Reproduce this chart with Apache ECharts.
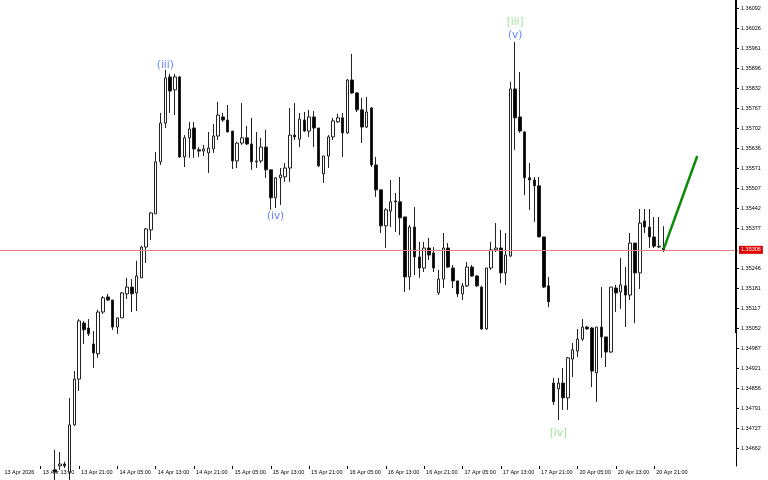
<!DOCTYPE html>
<html>
<head>
<meta charset="utf-8">
<title>H1 candles</title>
<script src="https://cdn.jsdelivr.net/npm/echarts@6/dist/echarts.min.js"></script>
<style>
  html, body { margin: 0; padding: 0; background: #fff; }
  #chart { width: 768px; height: 480px; }
</style>
</head>
<body>
<div id="chart"></div>
<script>
// hourly bars; bar 0 = 13 Apr 05:00, first visible candle is bar 11
const days = ['13 Apr', '14 Apr', '15 Apr', '16 Apr', '17 Apr', '20 Apr', '21 Apr'];
const firstHour = 5;
const barCount = 154;
const firstBar = 11;

// [open, close, low, high]
const candles = [
  [1.34591, 1.34584, 1.34558, 1.34656], [1.34604, 1.34610, 1.34591, 1.34649], [1.34610, 1.34604, 1.34597, 1.34617],
  [1.34584, 1.34737, 1.34558, 1.34825], [1.34737, 1.34886, 1.34734, 1.34912], [1.34886, 1.35075, 1.34847, 1.35081],
  [1.35068, 1.35046, 1.35000, 1.35075], [1.35052, 1.35033, 1.35026, 1.35081], [1.35000, 1.34971, 1.34922, 1.35042],
  [1.34968, 1.35104, 1.34955, 1.35111], [1.35104, 1.35150, 1.35098, 1.35156], [1.35153, 1.35143, 1.35140, 1.35163],
  [1.35143, 1.35055, 1.35046, 1.35143], [1.35055, 1.35085, 1.35033, 1.35085], [1.35085, 1.35166, 1.35085, 1.35169],
  [1.35163, 1.35185, 1.35146, 1.35215], [1.35185, 1.35163, 1.35104, 1.35211], [1.35166, 1.35221, 1.35107, 1.35270],
  [1.35215, 1.35315, 1.35215, 1.35319], [1.35315, 1.35374, 1.35263, 1.35377], [1.35371, 1.35426, 1.35338, 1.35429],
  [1.35423, 1.35592, 1.35423, 1.35624], [1.35592, 1.35718, 1.35582, 1.35751], [1.35718, 1.35865, 1.35702, 1.35891],
  [1.35868, 1.35822, 1.35751, 1.35878], [1.35826, 1.35868, 1.35744, 1.35878], [1.35868, 1.35608, 1.35605, 1.35871],
  [1.35608, 1.35670, 1.35575, 1.35679], [1.35670, 1.35699, 1.35605, 1.35722], [1.35702, 1.35634, 1.35605, 1.35722],
  [1.35631, 1.35627, 1.35608, 1.35640], [1.35627, 1.35634, 1.35611, 1.35647], [1.35621, 1.35637, 1.35556, 1.35689],
  [1.35634, 1.35676, 1.35621, 1.35715], [1.35676, 1.35744, 1.35663, 1.35787], [1.35738, 1.35728, 1.35722, 1.35751],
  [1.35728, 1.35689, 1.35689, 1.35777], [1.35692, 1.35595, 1.35569, 1.35692], [1.35595, 1.35653, 1.35572, 1.35657],
  [1.35653, 1.35670, 1.35647, 1.35783], [1.35670, 1.35650, 1.35647, 1.35709], [1.35650, 1.35592, 1.35566, 1.35735],
  [1.35592, 1.35595, 1.35572, 1.35689], [1.35595, 1.35640, 1.35588, 1.35670], [1.35640, 1.35566, 1.35540, 1.35696],
  [1.35566, 1.35475, 1.35436, 1.35566], [1.35475, 1.35540, 1.35442, 1.35543], [1.35540, 1.35549, 1.35452, 1.35572],
  [1.35543, 1.35572, 1.35527, 1.35588], [1.35572, 1.35679, 1.35527, 1.35767], [1.35679, 1.35673, 1.35663, 1.35783],
  [1.35666, 1.35731, 1.35640, 1.35751], [1.35728, 1.35692, 1.35689, 1.35754], [1.35692, 1.35738, 1.35673, 1.35761],
  [1.35738, 1.35702, 1.35640, 1.35757], [1.35702, 1.35579, 1.35575, 1.35702], [1.35553, 1.35611, 1.35523, 1.35611],
  [1.35611, 1.35673, 1.35572, 1.35679], [1.35673, 1.35725, 1.35663, 1.35735], [1.35722, 1.35735, 1.35718, 1.35748],
  [1.35735, 1.35686, 1.35608, 1.35751], [1.35686, 1.35858, 1.35683, 1.35861], [1.35858, 1.35816, 1.35813, 1.35943],
  [1.35816, 1.35761, 1.35754, 1.35819], [1.35761, 1.35705, 1.35653, 1.35800], [1.35705, 1.35754, 1.35702, 1.35803],
  [1.35767, 1.35582, 1.35575, 1.35770], [1.35582, 1.35501, 1.35478, 1.35608], [1.35501, 1.35384, 1.35361, 1.35501],
  [1.35384, 1.35436, 1.35312, 1.35442], [1.35432, 1.35462, 1.35380, 1.35533], [1.35465, 1.35462, 1.35364, 1.35491],
  [1.35462, 1.35410, 1.35354, 1.35543], [1.35413, 1.35218, 1.35169, 1.35413], [1.35218, 1.35380, 1.35176, 1.35387],
  [1.35380, 1.35283, 1.35224, 1.35445], [1.35283, 1.35247, 1.35215, 1.35332], [1.35247, 1.35312, 1.35234, 1.35332],
  [1.35312, 1.35289, 1.35273, 1.35345], [1.35296, 1.35247, 1.35234, 1.35315], [1.35166, 1.35211, 1.35159, 1.35241],
  [1.35211, 1.35312, 1.35182, 1.35361], [1.35312, 1.35250, 1.35247, 1.35328], [1.35247, 1.35205, 1.35182, 1.35257],
  [1.35205, 1.35163, 1.35153, 1.35205], [1.35163, 1.35189, 1.35143, 1.35198], [1.35189, 1.35250, 1.35185, 1.35267],
  [1.35250, 1.35221, 1.35218, 1.35257], [1.35221, 1.35189, 1.35185, 1.35224], [1.35185, 1.35049, 1.35046, 1.35189],
  [1.35049, 1.35247, 1.35046, 1.35247], [1.35247, 1.35306, 1.35241, 1.35332], [1.35306, 1.35312, 1.35299, 1.35393],
  [1.35312, 1.35231, 1.35198, 1.35371], [1.35231, 1.35289, 1.35192, 1.35361], [1.35286, 1.35829, 1.35283, 1.35852],
  [1.35829, 1.35735, 1.35631, 1.35982], [1.35738, 1.35692, 1.35686, 1.35884], [1.35689, 1.35540, 1.35484, 1.35692],
  [1.35540, 1.35533, 1.35436, 1.35588], [1.35533, 1.35514, 1.35397, 1.35543], [1.35514, 1.35348, 1.35348, 1.35543],
  [1.35348, 1.35185, 1.35182, 1.35348], [1.35189, 1.35137, 1.35120, 1.35218], [1.34873, 1.34812, 1.34802, 1.34890],
  [1.34854, 1.34873, 1.34753, 1.34890], [1.34873, 1.34825, 1.34786, 1.34922], [1.34825, 1.34955, 1.34786, 1.34958],
  [1.34951, 1.34981, 1.34893, 1.35003], [1.34977, 1.35016, 1.34958, 1.35049], [1.35016, 1.35055, 1.35010, 1.35081],
  [1.35055, 1.35049, 1.35046, 1.35059], [1.35052, 1.34912, 1.34860, 1.35055], [1.34906, 1.35055, 1.34812, 1.35055],
  [1.35055, 1.35023, 1.34955, 1.35185], [1.35023, 1.34974, 1.34925, 1.35023], [1.34974, 1.35185, 1.34971, 1.35185],
  [1.35182, 1.35166, 1.35104, 1.35192], [1.35169, 1.35192, 1.35114, 1.35280], [1.35189, 1.35159, 1.35055, 1.35250],
  [1.35159, 1.35328, 1.35143, 1.35361], [1.35328, 1.35231, 1.35068, 1.35328], [1.35231, 1.35393, 1.35179, 1.35439],
  [1.35400, 1.35380, 1.35361, 1.35439], [1.35380, 1.35348, 1.35312, 1.35439], [1.35348, 1.35318, 1.35312, 1.35413],
  [1.35315, 1.35318, 1.35312, 1.35413], [1.35312, 1.35306, 1.35299, 1.35383]
];

const xTickLabels = ['13 Apr 2026', '13 Apr 13:00', '13 Apr 21:00', '14 Apr 05:00', '14 Apr 13:00', '14 Apr 21:00',
  '15 Apr 05:00', '15 Apr 13:00', '15 Apr 21:00', '16 Apr 05:00', '16 Apr 13:00', '16 Apr 21:00',
  '17 Apr 05:00', '17 Apr 13:00', '17 Apr 21:00', '20 Apr 05:00', '20 Apr 13:00', '20 Apr 21:00'];

const yTickValues = [1.34662, 1.34727, 1.34791, 1.34856, 1.34921, 1.34987, 1.35052, 1.35117, 1.35181, 1.35246,
  1.35377, 1.35442, 1.35507, 1.35571, 1.35636, 1.35702, 1.35767, 1.35832, 1.35896, 1.35961, 1.36026, 1.36092];
const yMin = 1.346035;
const yMax = 1.36118;

const lastPrice = 1.35306;
const trendLine = [[138, 1.35309], [145, 1.35611]];

// elliott wave marks: [text, bar, price]
const minorWaves = [['(iii)', 34, 1.35907], ['(iv)', 57, 1.35416], ['(v)', 107, 1.36004]];
const majorWaves = [['[iii]', 107, 1.36047], ['[iv]', 116, 1.34711]];

const categories = [];
let d = 0, h = firstHour;
for (let i = 0; i < barCount; i++) {
  categories.push(days[d] + ' ' + String(h).padStart(2, '0') + ':00');
  h++;
  if (h === 24) { h = 0; d++; }
}

const candleData = categories.map((c, i) => {
  const k = i - firstBar;
  return k >= 0 && k < candles.length ? candles[k] : '-';
});

const axisFont = { fontSize: 5.5, color: '#000', fontFamily: 'Liberation Sans' };

function waveSeries(list, color) {
  return {
    type: 'scatter',
    symbolSize: 0,
    silent: true,
    data: list.map(w => ({ name: w[0], value: [w[1], w[2]] })),
    label: {
      show: true,
      position: 'inside',
      formatter: p => p.name,
      color: color,
      fontSize: 10.5,
      fontFamily: 'DejaVu Sans'
    }
  };
}

const chart = echarts.init(document.getElementById('chart'));
chart.setOption({
  animation: false,
  backgroundColor: '#fff',
  grid: { left: -1.2, right: 30, top: 0, bottom: 14 },
  // the terminal draws the upper part of the price scale border heavier
  graphic: [{ type: 'rect', z: 100, shape: { x: 735, y: 0, width: 2, height: 333 }, style: { fill: '#000' }, silent: true }],
  xAxis: {
    type: 'category',
    data: categories,
    boundaryGap: true,
    axisLine: { show: false },
    axisTick: {
      show: true,
      alignWithLabel: true,
      length: 3,
      interval: i => i % 8 === 0 && i > 0 && i <= 136,
      lineStyle: { color: '#000' }
    },
    axisLabel: Object.assign({
      interval: i => i % 8 === 0 && i <= 136,
      formatter: (v, i) => xTickLabels[i / 8] || '',
      align: 'left',
      margin: 3,
      padding: [0, 0, 0, 2]
    }, axisFont),
    splitLine: { show: false }
  },
  yAxis: {
    type: 'value',
    position: 'right',
    offset: -2,
    min: yMin,
    max: yMax,
    splitLine: { show: false },
    axisLine: { show: true, lineStyle: { color: '#000', width: 1 } },
    axisTick: { show: true, length: 3, customValues: yTickValues, lineStyle: { color: '#000' } },
    axisLabel: Object.assign({
      customValues: yTickValues,
      formatter: v => v.toFixed(5),
      margin: 5
    }, axisFont)
  },
  series: [
    {
      type: 'candlestick',
      data: candleData,
      barWidth: 3,
      clip: true,
      silent: true,
      itemStyle: {
        color: '#fff',
        color0: '#000',
        borderColor: '#222',
        borderColor0: '#222',
        borderWidth: 1
      }
    },
    {
      type: 'line',
      data: trendLine,
      symbol: 'none',
      silent: true,
      z: 3,
      lineStyle: { color: '#0b8a0b', width: 2.5 },
      markLine: {
        symbol: 'none',
        silent: true,
        precision: 5,
        lineStyle: { color: '#e88080', width: 1, type: 'solid' },
        label: Object.assign({
          position: 'end',
          formatter: lastPrice.toFixed(5),
          backgroundColor: '#e00000',
          padding: [1, 2],
          distance: 1
        }, axisFont, { color: '#fff' }),
        data: [{ yAxis: lastPrice }]
      }
    },
    waveSeries(minorWaves, '#4060ff'),
    waveSeries(majorWaves, '#80dc80')
  ]
});
</script>
</body>
</html>
